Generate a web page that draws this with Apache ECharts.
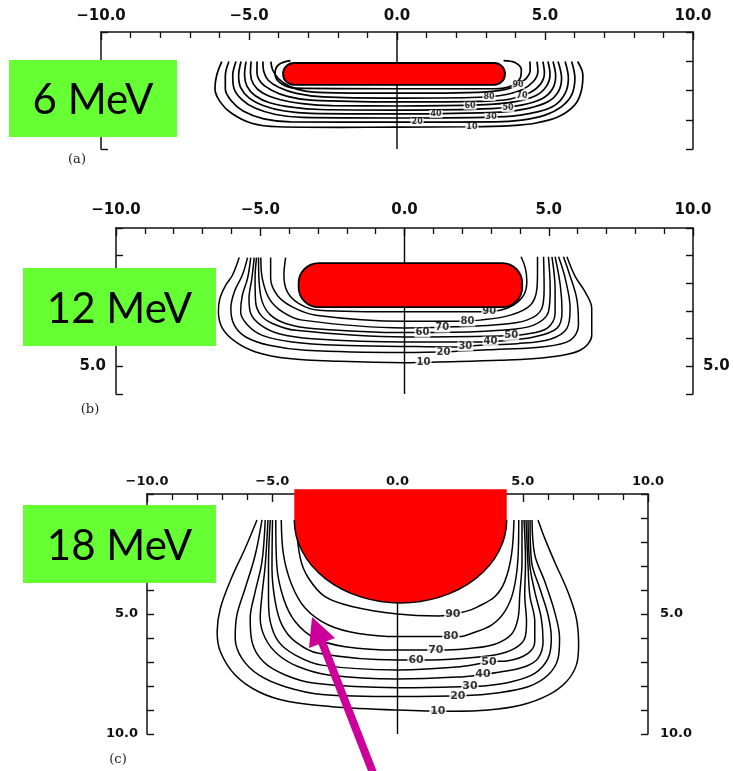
<!DOCTYPE html>
<html>
<head>
<meta charset="utf-8">
<script src="https://cdn.jsdelivr.net/npm/echarts@6/dist/echarts.min.js"></script>
<style>
  html, body { margin: 0; padding: 0; background: #fff; }
  #chart { width: 733px; height: 771px; }
</style>
</head>
<body>
<div id="chart"></div>
<script>
// isodose curves, x = lateral distance (cm), y = depth (cm)
const levelsA = [95, 90, 80, 70, 60, 50, 40, 30, 20, 10];
const curvesA = [
  [[-3.6,0.98],[-4.0,1.12],[-4.12,1.42],[-3.95,1.74],[-3.45,1.92],[0,1.94],[3.3,1.94],[3.85,1.85],[4.15,1.6],[4.2,1.3],[4.0,1.05],[3.6,0.98]],
  [[-4.26,1.01],[-4.2,1.3],[-4.0,1.6],[-3.65,1.85],[-3.1,2.02],[-2.0,2.08],[0,2.09],[2.0,2.08],[3.3,2.02],[3.95,1.88],[4.35,1.6],[4.5,1.3],[4.49,1.01]],
  [[-4.53,1.01],[-4.5,1.35],[-4.35,1.65],[-3.98,1.9],[-3.4,2.1],[-2.5,2.22],[0,2.26],[2.5,2.24],[3.5,2.17],[4.2,1.98],[4.6,1.7],[4.76,1.35],[4.73,1.01]],
  [[-4.73,1.01],[-4.73,1.38],[-4.6,1.72],[-4.25,1.98],[-3.7,2.2],[-2.9,2.33],[0,2.39],[2.8,2.37],[3.8,2.3],[4.5,2.07],[4.85,1.78],[4.98,1.4],[4.93,1.01]],
  [[-4.93,1.01],[-4.95,1.4],[-4.85,1.78],[-4.55,2.08],[-4.0,2.3],[-3.2,2.45],[-2.2,2.52],[0,2.53],[3.0,2.48],[4.0,2.38],[4.7,2.17],[5.05,1.85],[5.17,1.45],[5.1,1.01]],
  [[-5.1,1.01],[-5.15,1.45],[-5.07,1.85],[-4.8,2.17],[-4.3,2.42],[-3.5,2.58],[-2.6,2.65],[0,2.67],[3.2,2.62],[4.2,2.5],[4.9,2.28],[5.25,1.95],[5.36,1.5],[5.27,1.01]],
  [[-5.27,1.01],[-5.35,1.5],[-5.28,1.9],[-5.0,2.25],[-4.5,2.52],[-3.8,2.7],[-2.9,2.78],[0,2.8],[3.5,2.74],[4.44,2.61],[5.11,2.38],[5.45,2.04],[5.56,1.58],[5.44,1.01]],
  [[-5.44,1.01],[-5.55,1.5],[-5.5,1.95],[-5.25,2.3],[-4.8,2.6],[-4.1,2.82],[-3.2,2.92],[0,2.94],[3.65,2.89],[4.78,2.72],[5.34,2.5],[5.68,2.1],[5.79,1.58],[5.68,1.01]],
  [[-5.68,1.01],[-5.8,1.5],[-5.8,1.95],[-5.6,2.35],[-5.2,2.7],[-4.5,2.97],[-3.6,3.07],[0,3.08],[3.31,3.07],[4.21,3.01],[5.0,2.84],[5.56,2.55],[5.9,2.15],[6.01,1.58],[5.9,1.01]],
  [[-5.92,1.01],[-6.09,1.47],[-6.15,1.93],[-5.98,2.38],[-5.59,2.78],[-4.91,3.12],[-4.01,3.24],[-1.98,3.26],[0,3.25],[2.5,3.24],[3.87,3.2],[4.66,3.12],[5.45,2.9],[6.0,2.5],[6.22,2.04],[6.28,1.47],[6.1,1.01]]
];
const labelsA = [[4.09,1.81,'90'],[3.11,2.22,'80'],[4.22,2.2,'70'],[2.47,2.52,'60'],[3.75,2.6,'50'],[1.32,2.8,'40'],[3.18,2.9,'30'],[0.68,3.08,'20'],[2.53,3.25,'10']];

const levelsB = [90, 80, 70, 60, 50, 40, 30, 20, 10];
const curvesB = [
  [[-4.12,1.07],[-4.18,1.7],[-4.06,2.31],[-3.66,2.73],[-2.97,2.97],[0,3.03],[2.57,3.03],[3.32,2.97],[3.78,2.79],[4.13,2.43],[4.24,1.94],[4.19,1.46],[4.04,1.04]],
  [[-4.64,1.07],[-4.64,1.82],[-4.41,2.43],[-3.89,2.85],[-3.08,3.15],[0,3.37],[1.88,3.37],[2.63,3.33],[3.67,3.15],[4.36,2.79],[4.59,2.19],[4.61,1.58],[4.61,1.04]],
  [[-4.98,1.07],[-4.93,1.82],[-4.69,2.55],[-4.23,3.03],[-3.54,3.33],[0,3.61],[1.71,3.57],[3.09,3.51],[4.24,3.33],[4.76,2.91],[4.84,2.19],[4.82,1.04]],
  [[-5.06,1.07],[-5.04,1.94],[-4.93,2.67],[-4.64,3.15],[-4.12,3.45],[-3.2,3.63],[0,3.78],[1.01,3.78],[3.32,3.7],[4.48,3.51],[4.99,3.03],[5.05,2.19],[4.99,1.04]],
  [[-5.13,1.07],[-5.18,1.82],[-5.16,2.67],[-4.98,3.15],[-4.58,3.45],[-3.77,3.7],[0,3.94],[3.32,3.9],[4.13,3.85],[4.94,3.63],[5.22,3.09],[5.22,2.19],[5.11,1.04]],
  [[-5.21,1.07],[-5.29,1.82],[-5.39,2.55],[-5.33,3.09],[-4.98,3.51],[-4.35,3.82],[-3.2,4.0],[0,4.12],[2.63,4.12],[3.32,4.08],[4.48,3.94],[5.28,3.63],[5.46,3.03],[5.4,2.07],[5.22,1.04]],
  [[-5.33,1.07],[-5.44,1.82],[-5.62,2.43],[-5.68,3.03],[-5.44,3.51],[-4.93,3.88],[-3.89,4.12],[-2.27,4.24],[0,4.28],[1.82,4.3],[2.63,4.24],[3.9,4.18],[5.05,4.02],[5.63,3.63],[5.74,2.91],[5.57,1.82],[5.34,1.04]],
  [[-5.44,1.07],[-5.62,1.7],[-5.9,2.31],[-6.02,2.91],[-5.9,3.51],[-5.5,3.94],[-4.69,4.24],[-3.43,4.42],[0,4.5],[1.71,4.46],[3.32,4.38],[4.76,4.3],[5.74,4.06],[6.03,3.51],[5.97,2.55],[5.69,1.58],[5.51,1.04]],
  [[-5.73,1.07],[-5.96,1.7],[-6.2,2.07],[-6.4,2.55],[-6.45,3.03],[-6.31,3.63],[-5.85,4.12],[-5.16,4.48],[-4.0,4.72],[-2.27,4.82],[0,4.87],[1.13,4.84],[3.32,4.78],[5.05,4.66],[6.09,4.42],[6.49,3.88],[6.49,2.91],[6.26,2.31],[5.92,1.76],[5.63,1.04]]
];
const labelsB = [[2.94,3.02,'90'],[2.18,3.38,'80'],[1.31,3.6,'70'],[0.62,3.78,'60'],[3.7,3.9,'50'],[2.98,4.1,'40'],[2.11,4.28,'30'],[1.35,4.48,'20'],[0.66,4.86,'10']];

const levelsC = [90, 80, 70, 60, 50, 40, 30, 20, 10];
const curvesC = [
  [[-4.06,1.08],[-3.88,2.68],[-3.55,3.51],[-2.89,4.28],[-1.82,4.69],[0,5.0],[1.63,5.08],[2.76,4.88],[3.22,4.69],[3.88,4.28],[4.28,3.65],[4.55,2.54],[4.65,1.08]],
  [[-4.64,1.08],[-4.55,2.54],[-4.22,3.79],[-3.68,4.76],[-2.76,5.46],[-1.56,5.81],[0,5.94],[2.49,5.94],[2.95,5.81],[3.75,5.46],[4.28,4.9],[4.62,4.07],[4.81,2.68],[4.84,1.08]],
  [[-4.86,1.08],[-4.82,2.96],[-4.55,4.35],[-4.08,5.32],[-3.29,6.01],[-2.09,6.36],[0,6.5],[1.96,6.5],[2.95,6.43],[3.88,6.26],[4.55,5.84],[4.81,5.18],[4.88,4.21],[4.97,2.82],[4.97,1.08]],
  [[-4.99,1.08],[-5.01,3.1],[-4.88,4.49],[-4.61,5.46],[-4.08,6.15],[-3.15,6.64],[0,6.92],[1.1,6.92],[2.56,6.85],[3.88,6.71],[4.68,6.43],[5.08,6.01],[5.15,5.32],[5.08,4.21],[5.11,2.82],[5.05,1.08]],
  [[-5.08,1.08],[-5.15,2.96],[-5.15,4.35],[-5.08,5.32],[-4.75,6.15],[-4.08,6.71],[-3.02,7.13],[0,7.33],[2.5,7.2],[3.75,6.99],[4.42,6.95],[5.21,6.64],[5.48,6.15],[5.48,5.32],[5.28,4.21],[5.21,2.96],[5.13,1.08]],
  [[-5.17,1.08],[-5.28,2.96],[-5.41,4.21],[-5.48,5.18],[-5.28,6.01],[-4.75,6.71],[-3.95,7.2],[-2.76,7.54],[0,7.71],[2.4,7.63],[3.42,7.52],[4.1,7.42],[5.08,7.2],[5.61,6.85],[5.81,6.15],[5.74,5.18],[5.48,4.07],[5.28,2.96],[5.21,1.08]],
  [[-5.28,1.08],[-5.41,2.82],[-5.68,4.07],[-5.88,5.18],[-5.81,6.15],[-5.35,6.99],[-4.48,7.54],[-3.29,7.89],[0,8.07],[2.9,8.02],[3.42,8.0],[4.55,7.82],[5.48,7.47],[6.01,6.85],[6.14,6.01],[6.01,5.04],[5.68,3.93],[5.35,2.82],[5.29,1.08]],
  [[-5.41,1.08],[-5.68,2.54],[-6.08,3.93],[-6.41,5.04],[-6.48,6.01],[-6.21,6.85],[-5.54,7.54],[-4.48,8.03],[-3.02,8.35],[0,8.44],[2.76,8.4],[3.88,8.3],[5.21,8.03],[6.01,7.54],[6.41,6.85],[6.47,6.01],[6.27,4.9],[5.88,3.65],[5.48,2.54],[5.37,1.08]],
  [[-5.61,1.08],[-6.08,2.26],[-6.63,3.51],[-7.07,4.76],[-7.2,5.74],[-7.07,6.57],[-6.48,7.54],[-5.54,8.24],[-4.35,8.65],[-2.62,8.86],[0,9.0],[2.16,9.05],[3.62,9.0],[4.95,8.79],[6.01,8.38],[6.74,7.82],[7.14,7.13],[7.23,6.29],[7.14,5.18],[6.8,4.07],[6.27,2.82],[5.88,1.85],[5.61,1.08]]
];
const labelsC = [[2.21,5.0,'90'],[2.13,5.94,'80'],[1.53,6.5,'70'],[0.74,6.92,'60'],[3.65,7.0,'50'],[3.41,7.52,'40'],[2.89,8.0,'30'],[2.41,8.42,'20'],[1.61,9.05,'10']];

// red overlays: [x0, y0, x1, y1] and [x0, top, x1, centreY, bottom]
const cutoutA = [[-3.85, 1.06, 3.65, 1.81]];
const cutoutB = [[-3.67, 1.27, 4.08, 2.86]];
const cutoutC = [[-4.12, -0.2, 4.36, 1.08, 4.54]];

const depthMax = [4, 6, 10];
const depthLabels = [[], [5], [5, 10]];

const ink = '#111';
const chart = echarts.init(document.getElementById('chart'));

function xAx(grid, fontSize, margin) {
  return {
    type: 'value', gridIndex: grid, position: 'top', min: -10, max: 10, interval: 5,
    axisLine: { onZero: false, lineStyle: { color: ink, width: 1.5 } },
    axisTick: { inside: true, length: 8, lineStyle: { color: ink, width: 1.4 } },
    minorTick: { show: true, splitNumber: 5, length: 6, lineStyle: { color: ink, width: 1.3 } },
    splitLine: { show: false }, minorSplitLine: { show: false },
    axisLabel: {
      margin: margin, fontSize: fontSize, fontWeight: 'bold', color: ink, fontFamily: 'DejaVu Sans',
      formatter: v => v.toFixed(1).replace('-', '\u2212')
    }
  };
}

function yAx(grid, pos, labels, fontSize, margin) {
  return {
    type: 'value', gridIndex: grid, position: pos, inverse: true, min: 0, max: depthMax[grid], interval: 1,
    axisLine: { show: true, onZero: false, lineStyle: { color: ink, width: 1.5 } },
    axisTick: { show: true, inside: true, length: 7, lineStyle: { color: ink, width: 1.4 } },
    splitLine: { show: false },
    axisLabel: {
      show: labels.length > 0, margin: margin, fontSize: fontSize, fontWeight: 'bold', color: ink,
      fontFamily: 'DejaVu Sans', formatter: v => labels.includes(v) ? v.toFixed(1) : ''
    }
  };
}

const series = [];
[[curvesA, labelsA, 8, 1.7], [curvesB, labelsB, 10, 1.5], [curvesC, labelsC, 11, 1.5]].forEach(([curves, labels, fs, lw], g) => {
  curves.forEach(c => series.push({
    type: 'line', xAxisIndex: g, yAxisIndex: g * 2, data: c, smooth: 0.35,
    symbol: 'none', silent: true, z: 2,
    lineStyle: { color: '#000', width: lw }
  }));
  // central axis line
  series.push({
    type: 'line', xAxisIndex: g, yAxisIndex: g * 2, data: [[0, 0], [0, depthMax[g]]],
    symbol: 'none', silent: true, z: 1, lineStyle: { color: '#000', width: 1.4 }
  });
  series.push({
    type: 'scatter', xAxisIndex: g, yAxisIndex: g * 2, data: labels, symbolSize: 1, silent: true, z: 3,
    itemStyle: { color: 'rgba(0,0,0,0)' },
    label: {
      show: true, position: 'inside', formatter: p => String(p.value[2]),
      fontSize: fs, fontWeight: 'bold', color: '#000', fontFamily: 'DejaVu Sans',
      backgroundColor: '#fff', padding: [0, 1]
    }
  });
});

function renderBar(params, api) {
  const p0 = api.coord([api.value(0), api.value(1)]);
  const p1 = api.coord([api.value(2), api.value(3)]);
  const h = p1[1] - p0[1];
  return {
    type: 'rect',
    shape: { x: p0[0], y: p0[1], width: p1[0] - p0[0], height: h, r: Math.min(h / 2, 20) },
    style: { fill: '#ff0000', stroke: '#000', lineWidth: 1.8 }
  };
}

function renderCap(params, api) {
  const tl = api.coord([api.value(0), api.value(1)]);
  const mr = api.coord([api.value(2), api.value(3)]);
  const bt = api.coord([api.value(2), api.value(4)]);
  const x0 = tl[0], x1 = mr[0], top = tl[1], cy = mr[1];
  const rx = (x1 - x0) / 2, ry = bt[1] - cy;
  const arc = 'M' + x1 + ' ' + cy + ' A' + rx + ' ' + ry + ' 0 0 1 ' + x0 + ' ' + cy;
  return {
    type: 'group',
    children: [
      { type: 'path', shape: { pathData: 'M' + x0 + ' ' + top + ' L' + x1 + ' ' + top + ' L' + x1 + ' ' + cy + ' A' + rx + ' ' + ry + ' 0 0 1 ' + x0 + ' ' + cy + ' Z' },
        style: { fill: '#ff0000' } },
      { type: 'path', shape: { pathData: arc }, style: { fill: 'none', stroke: '#000', lineWidth: 1.5 } }
    ]
  };
}

series.push({ type: 'custom', xAxisIndex: 0, yAxisIndex: 0, data: cutoutA, renderItem: renderBar, clip: false, z: 5, silent: true });
series.push({ type: 'custom', xAxisIndex: 1, yAxisIndex: 2, data: cutoutB, renderItem: renderBar, clip: false, z: 5, silent: true });
series.push({ type: 'custom', xAxisIndex: 2, yAxisIndex: 4, data: cutoutC, renderItem: renderCap, clip: false, z: 5, silent: true });

const green = '#66ff33';
const magenta = '#cc0099';
function tag(x, y, w, h, text) {
  return [
    { type: 'rect', left: x, top: y, shape: { width: w, height: h }, style: { fill: green }, z: 10 },
    { type: 'text', x: x + w / 2, y: y + h / 2 + 2, z: 11,
      style: { text: text, fill: '#000', font: '42px Lato', align: 'center', verticalAlign: 'middle' } }
  ];
}
function panelName(x, y, text) {
  return { type: 'text', x: x, y: y, z: 11,
    style: { text: text, fill: '#222', font: '13px "DejaVu Serif"', align: 'center', verticalAlign: 'middle' } };
}

const option = {
  animation: false,
  backgroundColor: '#fff',
  grid: [
    { left: 101, top: 32, width: 592, height: 117, containLabel: false, outerBoundsMode: 'none' },
    { left: 116, top: 228, width: 577, height: 166, containLabel: false, outerBoundsMode: 'none' },
    { left: 147, top: 494, width: 501, height: 240, containLabel: false, outerBoundsMode: 'none' }
  ],
  xAxis: [xAx(0, 15, 8), xAx(1, 15, 10), xAx(2, 13, 6)],
  yAxis: [
    yAx(0, 'left', [], 15, 10), yAx(0, 'right', [], 15, 10),
    yAx(1, 'left', depthLabels[1], 15, 10), yAx(1, 'right', depthLabels[1], 15, 10),
    yAx(2, 'left', depthLabels[2], 13, 9), yAx(2, 'right', depthLabels[2], 13, 12)
  ],
  series: series,
  graphic: [].concat(
    tag(9, 60, 168, 77, '6 MeV'),
    tag(23, 268, 193, 78, '12 MeV'),
    tag(23, 505, 193, 78, '18 MeV'),
    [
      panelName(77, 160, '(a)'),
      panelName(90, 410, '(b)'),
      panelName(118, 760, '(c)'),
      { type: 'line', z: 12, shape: { x1: 375, y1: 778, x2: 322, y2: 642 },
        style: { stroke: magenta, lineWidth: 8 } },
      { type: 'polygon', z: 12, shape: { points: [[312, 617], [335, 638], [309, 648]] },
        style: { fill: magenta } }
    ]
  )
};
chart.setOption(option);
</script>
</body>
</html>
